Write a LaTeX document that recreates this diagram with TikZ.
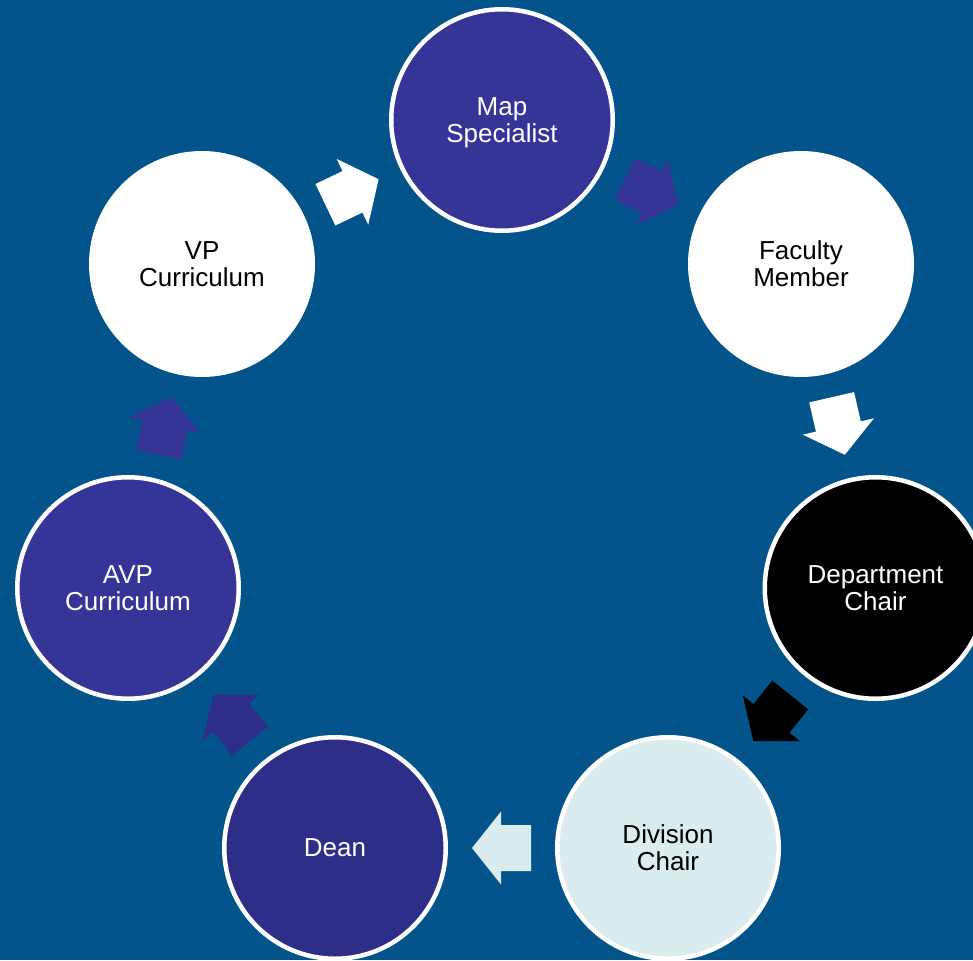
\documentclass[tikz,border=0pt]{standalone}
\usepackage{fontspec}
\setmainfont{Liberation Sans}
\usetikzlibrary{calc}
\definecolor{bgblue}{RGB}{2,84,138}
\definecolor{mappurple}{RGB}{55,52,152}
\definecolor{deanpurple}{RGB}{46,45,135}
\definecolor{divcyan}{RGB}{218,236,238}
\newcommand\cyclearrow[3]{%
  \pgfmathanglebetweenpoints{\pgfpointanchor{#1}{center}}{\pgfpointanchor{#2}{center}}%
  \let\cyang\pgfmathresult
  \begin{scope}[shift={($(#1)!0.5!(#2)$)}, rotate=\cyang]
    \fill[#3] (-29.5,-23) -- (0.5,-23) -- (0.5,-36.5) -- (29.5,0) -- (0.5,36.5) -- (0.5,23) -- (-29.5,23) -- cycle;
  \end{scope}}
\begin{document}
\begin{tikzpicture}[x=1pt,y=-1pt,
  cnode/.style={circle, draw=white, line width=4.5pt, minimum size=221.5pt, inner sep=0pt,
    align=center, font=\fontsize{26}{27}\selectfont, text depth=0pt}]
\useasboundingbox (0,0) rectangle (973,960);
\fill[bgblue] (0,0) rectangle (973,960);
\node[cnode, fill=mappurple, text=white] (map) at (502,120) {Map\\Specialist};
\node[cnode, fill=white, text=black] (fac) at (801,264) {Faculty\\Member};
\node[cnode, fill=black, text=white] (dept) at (875.5,588) {Department\\Chair};
\node[cnode, fill=divcyan, text=black] (div) at (668,848) {Division\\Chair};
\node[cnode, fill=deanpurple, text=white] (dean) at (335,848) {Dean};
\node[cnode, fill=mappurple, text=white] (avp) at (128,588) {AVP\\Curriculum};
\node[cnode, fill=white, text=black] (vp) at (202,264) {VP\\Curriculum};
\cyclearrow{vp}{map}{white}
\cyclearrow{map}{fac}{mappurple}
\cyclearrow{fac}{dept}{white}
\cyclearrow{dept}{div}{black}
\cyclearrow{div}{dean}{divcyan}
\cyclearrow{dean}{avp}{deanpurple}
\cyclearrow{avp}{vp}{mappurple}
\end{tikzpicture}
\end{document}
